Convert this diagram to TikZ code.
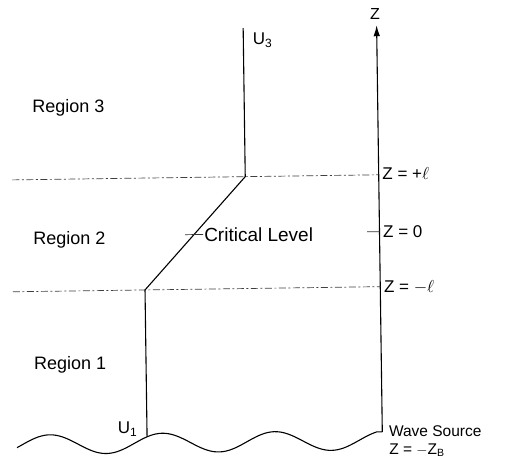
\documentclass[tikz,border=0pt]{standalone}
\usepackage{fontspec}
\setmainfont{Liberation Sans}
\usetikzlibrary{arrows.meta}
\newcommand{\mysub}[1]{\raisebox{-0.35ex}{\fontsize{12}{12}\selectfont #1}}
\newcommand{\mysubsm}[1]{\raisebox{-0.25ex}{\fontsize{10.5}{10.5}\selectfont #1}}
\begin{document}
\begin{tikzpicture}[x=1pt,y=-1pt,
  solidline/.style={line width=1.1pt,black},
  dashline/.style={line width=0.7pt,black!75,dash pattern=on 7pt off 2.5pt on 2pt off 2.5pt},
  tickline/.style={line width=0.7pt,black!80},
  lbl/.style={inner sep=0pt,anchor=west,font=\fontsize{17}{17}\selectfont},
  reglbl/.style={inner sep=0pt,anchor=west,font=\fontsize{18}{18}\selectfont}]
\useasboundingbox (0,0) rectangle (507,464);
\begin{scope}[rotate around={0.8:(250,230)}]
  % axis
  \coordinate (zb) at (379.5,433.8);
  \coordinate (zt) at (379.5,27);
  \coordinate (ap) at (379.5,176.6);
  \coordinate (a0) at (379.5,233.5);
  \coordinate (am) at (379.5,288.5);
  \draw[solidline,-{Latex[length=11pt,width=6.5pt]}] (zb) -- (zt);
  \node[inner sep=0pt,font=\fontsize{16}{16}\selectfont] (zl) at (378,16) {Z};
  % dashed levels
  \coordinate (lp) at (13,176.6);
  \coordinate (lm) at (12,288.5);
  \draw[dashline] (lp) -- (ap);
  \draw[dashline] (lm) -- (am);
  \coordinate (t0) at (367,233.5);
  \draw[tickline] (t0) -- (a0);
  % wind profile
  \coordinate (u3t) at (246,28);
  \coordinate (ku) at (246,176.6);
  \coordinate (kl) at (144.2,288.5);
  \coordinate (w1) at (144.2,435.3);
  \draw[solidline] (u3t) -- (ku) -- (kl) -- (w1);
  \coordinate (c1) at (185,233.8);
  \coordinate (c2) at (203,233.8);
  \draw[tickline] (c1) -- (c2);
  % wave surface
  \draw[solidline] plot[domain=14:374,samples=120,smooth] (\x,{441.75-9.75*cos(3.2*(\x-47))}) -- (zb);
  % labels
  \node[lbl,font=\fontsize{19}{19}\selectfont] (cl) at (204,234.5) {Critical Level};
  \node[lbl] (zp) at (383,175.5) {Z = +$\ell$};
  \node[lbl] (z0) at (383,234) {Z = 0};
  \node[lbl] (zm) at (383,289) {Z = $-\ell$};
  \node[reglbl] (r3) at (34,104.5) {Region 3};
  \node[reglbl] (r2) at (33,237) {Region 2};
  \node[reglbl] (r1) at (32,362) {Region 1};
  \node[inner sep=0pt,font=\fontsize{17}{17}\selectfont] (u3) at (265,40) {U\mysub{3}};
  \node[inner sep=0pt,font=\fontsize{17}{17}\selectfont] (u1) at (124.5,427) {U\mysub{1}};
  \node[lbl,font=\fontsize{15.5}{15.5}\selectfont] (ws) at (386,433.5) {Wave Source};
  \node[lbl,font=\fontsize{15.5}{15.5}\selectfont] (zbl) at (386,452) {Z = $-$Z\mysubsm{B}};
\end{scope}
\end{tikzpicture}
\end{document}
